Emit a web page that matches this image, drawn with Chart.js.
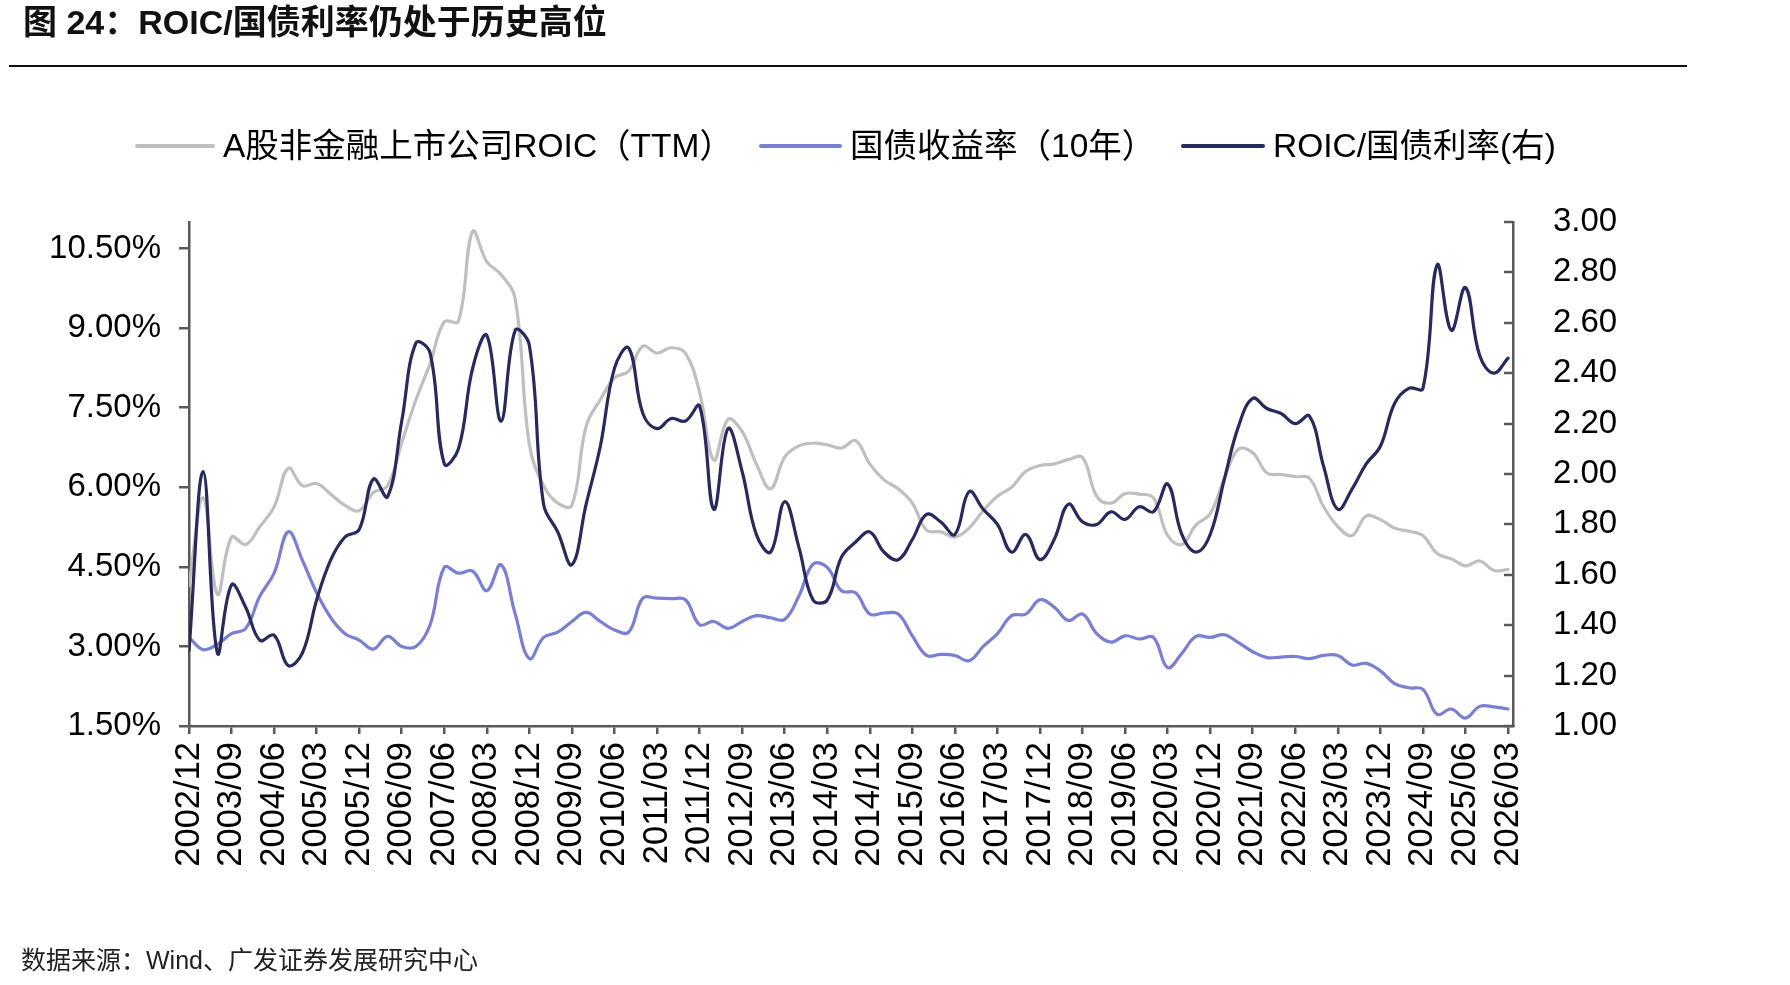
<!DOCTYPE html>
<html>
<head>
<meta charset="utf-8">
<script src="https://cdn.jsdelivr.net/npm/chart.js@4.4.1/dist/chart.umd.min.js"></script>
<style>
  html, body { margin:0; padding:0; background:#fff; }
  body { width:1790px; height:985px; position:relative; overflow:hidden; font-family:"Liberation Sans","Noto Sans CJK SC",sans-serif; }
  #title { position:absolute; left:23px; top:-5px; font-size:34px; font-weight:bold; color:#111; white-space:nowrap; }
  #rule { position:absolute; left:9px; top:65px; width:1678px; height:2px; background:#111; }
  #source { position:absolute; left:21px; top:940px; font-size:25px; color:#222; white-space:nowrap; }
  #wrap { position:absolute; left:0; top:0; width:1790px; height:985px; }
  .lg { position:absolute; top:0; height:0; }
  .lg .sw { position:absolute; top:144px; height:4px; border-radius:2px; }
  .lg .tx { position:absolute; top:124px; font-size:33.5px; line-height:44px; color:#000; white-space:nowrap; }
</style>
</head>
<body>
<div id="wrap"><canvas id="c" width="1790" height="985"></canvas></div>
<div id="title">图 24：ROIC/国债利率仍处于历史高位</div>
<div id="rule"></div>
<div id="legend"></div>
<div id="source">数据来源：Wind、广发证券发展研究中心</div>
<script>
const QUARTERS = [
"2002/12",
"2003/03","2003/06","2003/09","2003/12",
"2004/03","2004/06","2004/09","2004/12",
"2005/03","2005/06","2005/09","2005/12",
"2006/03","2006/06","2006/09","2006/12",
"2007/03","2007/06","2007/09","2007/12",
"2008/03","2008/06","2008/09","2008/12",
"2009/03","2009/06","2009/09","2009/12",
"2010/03","2010/06","2010/09","2010/12",
"2011/03","2011/06","2011/09","2011/12",
"2012/03","2012/06","2012/09","2012/12",
"2013/03","2013/06","2013/09","2013/12",
"2014/03","2014/06","2014/09","2014/12",
"2015/03","2015/06","2015/09","2015/12",
"2016/03","2016/06","2016/09","2016/12",
"2017/03","2017/06","2017/09","2017/12",
"2018/03","2018/06","2018/09","2018/12",
"2019/03","2019/06","2019/09","2019/12",
"2020/03","2020/06","2020/09","2020/12",
"2021/03","2021/06","2021/09","2021/12",
"2022/03","2022/06","2022/09","2022/12",
"2023/03","2023/06","2023/09","2023/12",
"2024/03","2024/06","2024/09","2024/12",
"2025/03","2025/06","2025/09","2025/12",
"2026/03"
];

// A股非金融上市公司ROIC（TTM）, %
const ROIC = [
4.15,5.80,3.98,5.06,4.92,5.26,5.63,6.36,6.03,6.07,
5.87,5.66,5.56,5.90,6.03,6.84,7.65,8.33,9.12,9.13,
10.82,10.25,10.01,9.55,6.80,6.03,5.70,5.66,7.15,7.65,
8.06,8.19,8.66,8.53,8.63,8.53,7.79,6.51,7.28,7.05,
6.44,5.97,6.57,6.78,6.83,6.80,6.74,6.88,6.44,6.14,
5.97,5.70,5.19,5.16,5.06,5.23,5.56,5.83,6.00,6.30,
6.41,6.44,6.52,6.56,5.83,5.70,5.88,5.87,5.80,5.09,
4.92,5.29,5.50,6.17,6.72,6.65,6.27,6.24,6.20,6.17,
5.63,5.26,5.09,5.46,5.39,5.23,5.17,5.09,4.75,4.65,
4.52,4.61,4.43,4.45
];

// 国债收益率（10年）, %
const YIELD10 = [
3.17,2.94,3.04,3.24,3.34,3.95,4.38,5.16,4.62,4.01,
3.54,3.24,3.12,2.95,3.19,3.00,3.00,3.41,4.49,4.38,
4.42,4.05,4.54,3.61,2.77,3.17,3.27,3.47,3.64,3.47,
3.31,3.27,3.91,3.91,3.90,3.88,3.41,3.47,3.34,3.47,
3.58,3.54,3.51,3.95,4.55,4.49,4.05,4.01,3.61,3.63,
3.61,3.20,2.83,2.85,2.83,2.73,3.00,3.24,3.58,3.61,
3.88,3.74,3.49,3.61,3.24,3.08,3.20,3.14,3.17,2.60,
2.87,3.19,3.17,3.22,3.07,2.90,2.79,2.80,2.81,2.77,
2.83,2.83,2.65,2.68,2.54,2.30,2.22,2.19,1.72,1.82,
1.65,1.87,1.86,1.82
];

// ROIC/国债利率 (right axis)
const RATIO = [
1.30,2.01,1.29,1.56,1.47,1.34,1.36,1.24,1.29,1.50,
1.66,1.75,1.78,1.98,1.91,2.21,2.52,2.48,2.04,2.10,
2.42,2.55,2.21,2.57,2.51,1.88,1.77,1.64,1.88,2.11,
2.42,2.50,2.24,2.18,2.22,2.21,2.27,1.86,2.18,2.01,
1.76,1.69,1.89,1.71,1.50,1.50,1.67,1.73,1.77,1.69,
1.66,1.74,1.84,1.81,1.76,1.93,1.86,1.80,1.69,1.76,
1.66,1.74,1.88,1.81,1.80,1.85,1.82,1.87,1.85,1.96,
1.76,1.69,1.76,1.98,2.19,2.30,2.26,2.24,2.20,2.23,
2.03,1.86,1.94,2.04,2.11,2.28,2.34,2.34,2.83,2.57,
2.74,2.47,2.40,2.46
];

const LEFT_TICKS = [1.5, 3.0, 4.5, 6.0, 7.5, 9.0, 10.5];
const RIGHT_TICKS = [1.0, 1.2, 1.4, 1.6, 1.8, 2.0, 2.2, 2.4, 2.6, 2.8, 3.0];
const X_TICK_STEP = 3;

const SERIES_NAMES = ["A股非金融上市公司ROIC（TTM）", "国债收益率（10年）", "ROIC/国债利率(右)"];
const COLORS = ["#BFBFBF", "#7A7FD2", "#262A5C"];
const AXIS_COLOR = "#595959";
const FONT = "'Liberation Sans','Noto Sans CJK SC',sans-serif";

// legend (HTML text): swatch left, swatch width, text left
const LEGEND_POS = [[135, 80, 223], [759, 83, 850], [1181, 84, 1273]];
const legendEl = document.getElementById('legend');
SERIES_NAMES.forEach((name, i) => {
  const g = document.createElement('div'); g.className = 'lg';
  const sw = document.createElement('div'); sw.className = 'sw';
  sw.style.left = LEGEND_POS[i][0] + 'px'; sw.style.width = LEGEND_POS[i][1] + 'px'; sw.style.background = COLORS[i];
  const tx = document.createElement('div'); tx.className = 'tx';
  tx.style.left = LEGEND_POS[i][2] + 'px'; tx.textContent = name;
  g.appendChild(sw); g.appendChild(tx); legendEl.appendChild(g);
});

const toPts = arr => arr.map((v, i) => ({ x: i, y: v }));
const xTickValues = QUARTERS.map((q, i) => i).filter(i => i % X_TICK_STEP === 0);

const inwardTicks = {
  id: 'inwardTicks',
  afterDatasetsDraw(chart) {
    const s = chart.scales.y1;
    const ctx = chart.ctx;
    ctx.save();
    ctx.strokeStyle = AXIS_COLOR;
    ctx.lineWidth = 2.5;
    s.ticks.forEach(t => {
      const y = Math.round(s.getPixelForValue(t.value));
      ctx.beginPath();
      ctx.moveTo(s.left, y);
      ctx.lineTo(s.left - 9, y);
      ctx.stroke();
    });
    ctx.restore();
  }
};

new Chart(document.getElementById('c'), {
  type: 'line',
  data: {
    datasets: [
      { label: SERIES_NAMES[0], data: toPts(ROIC), yAxisID: 'y', borderColor: COLORS[0], backgroundColor: COLORS[0], borderWidth: 3.2, order: 2 },
      { label: SERIES_NAMES[1], data: toPts(YIELD10), yAxisID: 'y', borderColor: COLORS[1], backgroundColor: COLORS[1], borderWidth: 3.2, order: 1 },
      { label: SERIES_NAMES[2], data: toPts(RATIO), yAxisID: 'y1', borderColor: COLORS[2], backgroundColor: COLORS[2], borderWidth: 3.2, order: 0 }
    ]
  },
  options: {
    responsive: false,
    animation: false,
    events: [],
    layout: { padding: { top: 222, left: 0, right: 54, bottom: 0 } },
    elements: {
      point: { radius: 0 },
      line: { tension: 0.4, borderCapStyle: 'round', borderJoinStyle: 'round' }
    },
    plugins: {
      tooltip: { enabled: false },
      legend: { display: false }
    },
    scales: {
      x: {
        type: 'linear',
        min: 0,
        max: 93.35,
        afterBuildTicks: s => { s.ticks = xTickValues.map(v => ({ value: v })); },
        afterFit: s => { s.height = 259; },
        border: { display: true, color: AXIS_COLOR, width: 2.5 },
        grid: { drawOnChartArea: false, drawTicks: true, tickLength: 8, color: AXIS_COLOR, lineWidth: 2.5 },
        ticks: {
          autoSkip: false,
          minRotation: 90,
          maxRotation: 90,
          padding: 8,
          color: '#000',
          font: { family: FONT, size: 34.5 },
          callback: v => QUARTERS[v]
        }
      },
      y: {
        type: 'linear',
        position: 'left',
        min: 1.5,
        max: 11,
        afterBuildTicks: s => { s.ticks = LEFT_TICKS.map(v => ({ value: v })); },
        afterFit: s => { s.width = 189; },
        border: { display: true, color: AXIS_COLOR, width: 2.5 },
        grid: { drawOnChartArea: false, drawTicks: true, tickLength: 10, color: AXIS_COLOR, lineWidth: 2.5 },
        ticks: {
          padding: 18,
          color: '#000',
          font: { family: FONT, size: 33 },
          callback: v => v.toFixed(2) + '%'
        }
      },
      y1: {
        type: 'linear',
        position: 'right',
        min: 1,
        max: 3,
        afterBuildTicks: s => { s.ticks = RIGHT_TICKS.map(v => ({ value: v })); },
        afterFit: s => { s.width = 223; },
        border: { display: true, color: AXIS_COLOR, width: 2.5 },
        grid: { drawOnChartArea: false, drawTicks: false },
        ticks: {
          padding: 40,
          color: '#000',
          font: { family: FONT, size: 33 },
          callback: v => v.toFixed(2)
        }
      }
    }
  },
  plugins: [inwardTicks]
});
</script>
</body>
</html>
